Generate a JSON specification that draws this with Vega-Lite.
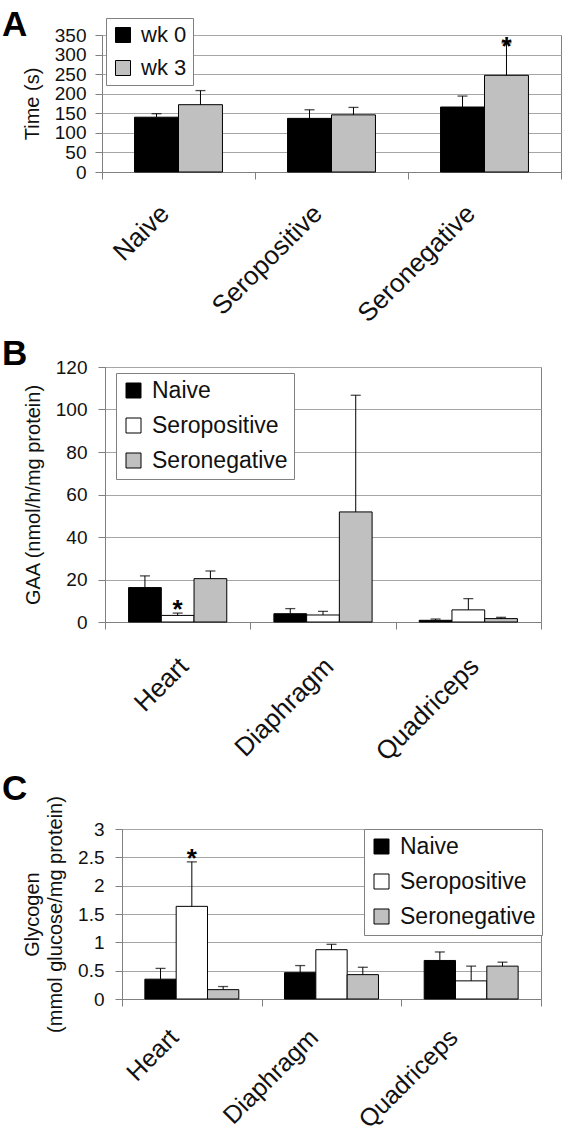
{
  "$schema": "https://vega.github.io/schema/vega-lite/v6.json",
  "padding": {"left": 0, "top": 7, "right": 0, "bottom": 0},
  "background": "white",
  "columns": 1,
  "align": "none",
  "spacing": 8,
  "resolve": {"scale": {"x": "independent", "y": "independent", "xOffset": "independent", "fill": "independent"}, "legend": {"fill": "independent"}},
  "datasets": {
    "A": [
      {"group": "Naive", "series": "wk 0", "value": 140, "err": 149},
      {"group": "Naive", "series": "wk 3", "value": 172, "err": 208},
      {"group": "Seropositive", "series": "wk 0", "value": 137, "err": 159},
      {"group": "Seropositive", "series": "wk 3", "value": 146, "err": 165},
      {"group": "Seronegative", "series": "wk 0", "value": 166, "err": 194},
      {"group": "Seronegative", "series": "wk 3", "value": 247, "err": 330, "sig": "*"}
    ],
    "B": [
      {"tissue": "Heart", "group": "Naive", "value": 16.2, "err": 21.7},
      {"tissue": "Heart", "group": "Seropositive", "value": 3.1, "err": 4.2, "sig": "*"},
      {"tissue": "Heart", "group": "Seronegative", "value": 20.4, "err": 24.0},
      {"tissue": "Diaphragm", "group": "Naive", "value": 3.9, "err": 6.3},
      {"tissue": "Diaphragm", "group": "Seropositive", "value": 3.3, "err": 5.0},
      {"tissue": "Diaphragm", "group": "Seronegative", "value": 51.8, "err": 106.7},
      {"tissue": "Quadriceps", "group": "Naive", "value": 0.8, "err": 1.4},
      {"tissue": "Quadriceps", "group": "Seropositive", "value": 5.7, "err": 11.0},
      {"tissue": "Quadriceps", "group": "Seronegative", "value": 1.6, "err": 2.2}
    ],
    "C": [
      {"tissue": "Heart", "group": "Naive", "value": 0.35, "err": 0.54},
      {"tissue": "Heart", "group": "Seropositive", "value": 1.635, "err": 2.42, "sig": "*"},
      {"tissue": "Heart", "group": "Seronegative", "value": 0.165, "err": 0.22},
      {"tissue": "Diaphragm", "group": "Naive", "value": 0.465, "err": 0.59},
      {"tissue": "Diaphragm", "group": "Seropositive", "value": 0.87, "err": 0.965},
      {"tissue": "Diaphragm", "group": "Seronegative", "value": 0.43, "err": 0.56},
      {"tissue": "Quadriceps", "group": "Naive", "value": 0.68, "err": 0.83},
      {"tissue": "Quadriceps", "group": "Seropositive", "value": 0.32, "err": 0.58},
      {"tissue": "Quadriceps", "group": "Seronegative", "value": 0.58, "err": 0.65}
    ]
  },
  "concat": [
    {
      "hconcat": [
        {"width": 1, "height": 1, "data": {"values": []}, "mark": "point", "view": {"stroke": null}},
        {
          "width": 459,
          "height": 137,
          "title": {"text": "A", "anchor": "start", "frame": "group", "fontSize": 35, "fontWeight": "bold", "color": "#000", "dx": -100, "offset": -25},
          "data": {"name": "A"},
          "encoding": {
            "x": {"field": "group", "type": "nominal", "sort": ["Naive", "Seropositive", "Seronegative"], "scale": {"paddingInner": 0, "paddingOuter": 0}, "axis": {"labelOffset": -14, "labelPadding": 30, "title": null}},
            "xOffset": {"field": "series", "type": "nominal", "sort": ["wk 0", "wk 3"], "scale": {"domain": ["wk 0", "wk 3"], "paddingInner": 0, "paddingOuter": 0.74}}
          },
          "layer": [
            {
              "mark": {"type": "bar", "stroke": "black", "strokeWidth": 1},
              "encoding": {
                "y": {"field": "value", "type": "quantitative", "title": "Time (s)", "scale": {"domain": [0, 350]}, "axis": {"values": [0, 50, 100, 150, 200, 250, 300, 350], "labelOverlap": false}},
                "fill": {"field": "series", "type": "nominal", "scale": {"domain": ["wk 0", "wk 3"], "range": ["#000000", "#c0c0c0"]}, "legend": {"title": null, "orient": "none", "legendX": 4, "legendY": -17, "labelFontSize": 22}}
              }
            },
            {
              "mark": {"type": "rule", "color": "black", "strokeWidth": 1},
              "encoding": {"y": {"field": "value", "type": "quantitative", "title": "Time (s)", "axis": {"values": [0, 50, 100, 150, 200, 250, 300, 350], "labelOverlap": false}}, "y2": {"field": "err"}}
            },
            {
              "mark": {"type": "tick", "color": "black", "size": 10, "thickness": 1.3},
              "encoding": {"y": {"field": "err", "type": "quantitative", "title": "Time (s)", "axis": {"values": [0, 50, 100, 150, 200, 250, 300, 350], "labelOverlap": false}}}
            },
            {
              "transform": [{"filter": "datum.sig"}],
              "mark": {"type": "text", "fontSize": 26, "fontWeight": "bold", "baseline": "alphabetic", "dy": 12, "color": "black"},
              "encoding": {"y": {"field": "err", "type": "quantitative", "title": "Time (s)", "axis": {"values": [0, 50, 100, 150, 200, 250, 300, 350], "labelOverlap": false}}, "text": {"field": "sig"}}
            }
          ]
        }
      ],
      "spacing": 0,
      "resolve": {"scale": {"x": "independent", "y": "independent", "fill": "independent"}, "legend": {"fill": "independent"}}
    },
    {
      "columns": 1,
      "align": "none",
      "spacing": 5,
      "resolve": {"scale": {"x": "independent", "y": "independent", "xOffset": "independent", "fill": "independent"}, "legend": {"fill": "independent"}},
      "concat": [
        {
          "hconcat": [
            {"width": 1, "height": 1, "data": {"values": []}, "mark": "point", "view": {"stroke": null}},
            {
              "width": 436,
              "height": 255,
              "title": {"text": "B", "anchor": "start", "frame": "group", "fontSize": 35, "fontWeight": "bold", "color": "#000", "dx": -103, "offset": -14},
              "data": {"name": "B"},
              "encoding": {
                "x": {"field": "tissue", "type": "nominal", "sort": ["Heart", "Diaphragm", "Quadriceps"], "scale": {"paddingInner": 0, "paddingOuter": 0}, "axis": {"labelOffset": 6, "labelPadding": 33, "title": null}},
                "xOffset": {"field": "group", "type": "nominal", "sort": ["Naive", "Seropositive", "Seronegative"], "scale": {"domain": ["Naive", "Seropositive", "Seronegative"], "paddingInner": 0, "paddingOuter": 0.72}}
              },
              "layer": [
                {
                  "mark": {"type": "bar", "stroke": "black", "strokeWidth": 1},
                  "encoding": {
                    "y": {"field": "value", "type": "quantitative", "title": "GAA (nmol/h/mg protein)", "scale": {"domain": [0, 120]}, "axis": {"values": [0, 20, 40, 60, 80, 100, 120], "labelOverlap": false, "labelPadding": 11}},
                    "fill": {"field": "group", "type": "nominal", "scale": {"domain": ["Naive", "Seropositive", "Seronegative"], "range": ["#000000", "#ffffff", "#c0c0c0"]}, "legend": {"title": null, "orient": "none", "legendX": 11, "legendY": 6}}
                  }
                },
                {
                  "mark": {"type": "rule", "color": "black", "strokeWidth": 1},
                  "encoding": {"y": {"field": "value", "type": "quantitative", "title": "GAA (nmol/h/mg protein)", "axis": {"values": [0, 20, 40, 60, 80, 100, 120], "labelOverlap": false, "labelPadding": 11}}, "y2": {"field": "err"}}
                },
                {
                  "mark": {"type": "tick", "color": "black", "size": 10, "thickness": 1.3},
                  "encoding": {"y": {"field": "err", "type": "quantitative", "title": "GAA (nmol/h/mg protein)", "axis": {"values": [0, 20, 40, 60, 80, 100, 120], "labelOverlap": false, "labelPadding": 11}}}
                },
                {
                  "transform": [{"filter": "datum.sig"}],
                  "mark": {"type": "text", "fontSize": 26, "fontWeight": "bold", "baseline": "alphabetic", "dy": 5, "color": "black"},
                  "encoding": {"y": {"field": "err", "type": "quantitative", "title": "GAA (nmol/h/mg protein)", "axis": {"values": [0, 20, 40, 60, 80, 100, 120], "labelOverlap": false, "labelPadding": 11}}, "text": {"field": "sig"}}
                }
              ]
            }
          ],
          "spacing": 0,
          "resolve": {"scale": {"x": "independent", "y": "independent", "fill": "independent"}, "legend": {"fill": "independent"}}
        },
        {
          "hconcat": [
            {"width": 1, "height": 1, "data": {"values": []}, "mark": "point", "view": {"stroke": null}},
            {
              "width": 419,
              "height": 170,
              "title": {"text": "C", "anchor": "start", "frame": "group", "fontSize": 35, "fontWeight": "bold", "color": "#000", "dx": -120, "offset": -11},
              "data": {"name": "C"},
              "encoding": {
                "x": {"field": "tissue", "type": "nominal", "sort": ["Heart", "Diaphragm", "Quadriceps"], "scale": {"paddingInner": 0, "paddingOuter": 0}, "axis": {"labelOffset": -18, "labelPadding": 27, "labelFontSize": 25, "title": null}},
                "xOffset": {"field": "group", "type": "nominal", "sort": ["Naive", "Seropositive", "Seronegative"], "scale": {"domain": ["Naive", "Seropositive", "Seronegative"], "paddingInner": 0, "paddingOuter": 0.73}}
              },
              "layer": [
                {
                  "mark": {"type": "bar", "stroke": "black", "strokeWidth": 1},
                  "encoding": {
                    "y": {"field": "value", "type": "quantitative", "title": ["Glycogen", "(mmol glucose/mg protein)"], "scale": {"domain": [0, 3]}, "axis": {"values": [0, 0.5, 1, 1.5, 2, 2.5, 3], "format": "~g", "labelOverlap": false, "labelPadding": 11, "titlePadding": 12}},
                    "fill": {"field": "group", "type": "nominal", "scale": {"domain": ["Naive", "Seropositive", "Seronegative"], "range": ["#000000", "#ffffff", "#c0c0c0"]}, "legend": {"title": null, "orient": "none", "legendX": 242, "legendY": 0}}
                  }
                },
                {
                  "mark": {"type": "rule", "color": "black", "strokeWidth": 1},
                  "encoding": {"y": {"field": "value", "type": "quantitative", "title": ["Glycogen", "(mmol glucose/mg protein)"], "axis": {"values": [0, 0.5, 1, 1.5, 2, 2.5, 3], "format": "~g", "labelOverlap": false, "labelPadding": 11, "titlePadding": 12}}, "y2": {"field": "err"}}
                },
                {
                  "mark": {"type": "tick", "color": "black", "size": 10, "thickness": 1.3},
                  "encoding": {"y": {"field": "err", "type": "quantitative", "title": ["Glycogen", "(mmol glucose/mg protein)"], "axis": {"values": [0, 0.5, 1, 1.5, 2, 2.5, 3], "format": "~g", "labelOverlap": false, "labelPadding": 11, "titlePadding": 12}}}
                },
                {
                  "transform": [{"filter": "datum.sig"}],
                  "mark": {"type": "text", "fontSize": 26, "fontWeight": "bold", "baseline": "alphabetic", "dy": 5, "color": "black"},
                  "encoding": {"y": {"field": "err", "type": "quantitative", "title": ["Glycogen", "(mmol glucose/mg protein)"], "axis": {"values": [0, 0.5, 1, 1.5, 2, 2.5, 3], "format": "~g", "labelOverlap": false, "labelPadding": 11, "titlePadding": 12}}, "text": {"field": "sig"}}
                }
              ]
            }
          ],
          "spacing": 0,
          "resolve": {"scale": {"x": "independent", "y": "independent", "fill": "independent"}, "legend": {"fill": "independent"}}
        }
      ]
    }
  ],
  "config": {
    "font": "Liberation Sans",
    "view": {"stroke": "#808080", "strokeWidth": 1},
    "axis": {"labelFont": "Liberation Sans", "titleFont": "Liberation Sans", "labelColor": "#111", "titleColor": "#111", "domainColor": "#808080", "tickColor": "#808080", "gridColor": "#a6a6a6", "titleFontWeight": "normal", "labelOverlap": false},
    "axisY": {"labelFontSize": 19, "titleFontSize": 20, "grid": true, "tickSize": 7, "labelPadding": 9, "titlePadding": 12, "titleLineHeight": 23},
    "axisX": {"labelFontSize": 26, "labelAngle": -45, "labelAlign": "right", "labelBaseline": "middle", "tickBand": "extent", "tickSize": 7, "grid": false},
    "legend": {"symbolType": "square", "symbolSize": 225, "symbolStrokeColor": "black", "symbolStrokeWidth": 1, "labelFontSize": 23, "labelFont": "Liberation Sans", "labelColor": "#111", "fillColor": "white", "strokeColor": "#808080", "padding": 6, "rowPadding": 11, "labelOffset": 7, "symbolOpacity": 1},
    "title": {"font": "Liberation Sans"}
  }
}
